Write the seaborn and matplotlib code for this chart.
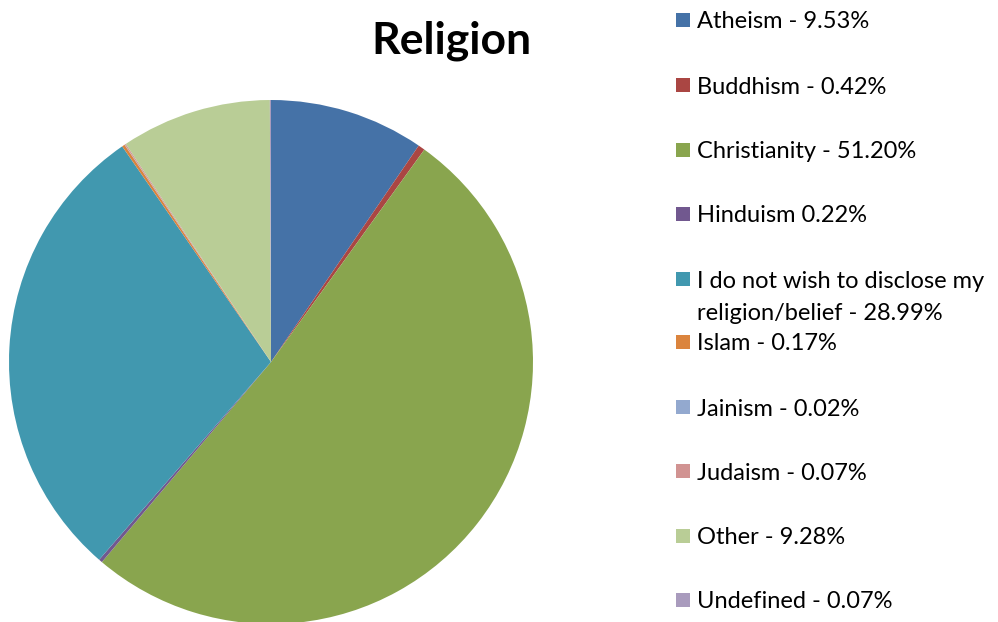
import matplotlib
matplotlib.use("Agg")
import matplotlib.pyplot as plt
import seaborn as sns
from matplotlib.patches import Rectangle

sns.set_theme(style="white")
plt.rcParams['font.family'] = ['Lato', 'DejaVu Sans']

categories = ["Atheism", "Buddhism", "Christianity", "Hinduism",
              "I do not wish to disclose my religion/belief", "Islam",
              "Jainism", "Judaism", "Other", "Undefined"]
values = [9.53, 0.42, 51.20, 0.22, 28.99, 0.17, 0.02, 0.07, 9.28, 0.07]
legend_labels = ["Atheism - 9.53%", "Buddhism - 0.42%", "Christianity - 51.20%",
                 "Hinduism 0.22%", "I do not wish to disclose my\nreligion/belief - 28.99%",
                 "Islam - 0.17%", "Jainism - 0.02%", "Judaism - 0.07%",
                 "Other - 9.28%", "Undefined - 0.07%"]
colors = ["#4572A7", "#AA4643", "#89A54E", "#71588F", "#4198AF",
          "#DB843D", "#93A9CF", "#D19392", "#B9CD96", "#A99BBD"]

W, H = 998, 622
fig = plt.figure(figsize=(W / 100, H / 100), dpi=100)
cx, cy, r = 271, 362, 262
ax = fig.add_axes([(cx - r) / W, (H - cy - r) / H, 2 * r / W, 2 * r / H])
wedges, _ = ax.pie(values, colors=colors, startangle=90, counterclock=False,
                   radius=1, wedgeprops=dict(linewidth=0))
ax.set_xlim(-1, 1)
ax.set_ylim(-1, 1)
ax.axis("off")
for w in wedges:
    w.set_clip_on(False)

fig.text(451 / W, 1 - 41 / H, "Religion", ha="center", va="center",
         fontsize=32, fontweight="bold", color="#000000")

row_y = [20, 85, 150, 214, 279, 342, 407, 471, 536, 600]
for lab, col, y in zip(legend_labels, colors, row_y):
    fig.patches.append(Rectangle((676 / W, 1 - (y + 7) / H), 14 / W, 14 / H,
                                 transform=fig.transFigure, facecolor=col,
                                 edgecolor="none"))
    lines = lab.split("\n")
    for i, line in enumerate(lines):
        fig.text(697 / W, 1 - (y + 32 * i) / H, line, ha="left",
                 va="center_baseline", fontsize=17, color="#000000")

fig.savefig("out.png", dpi=100)
